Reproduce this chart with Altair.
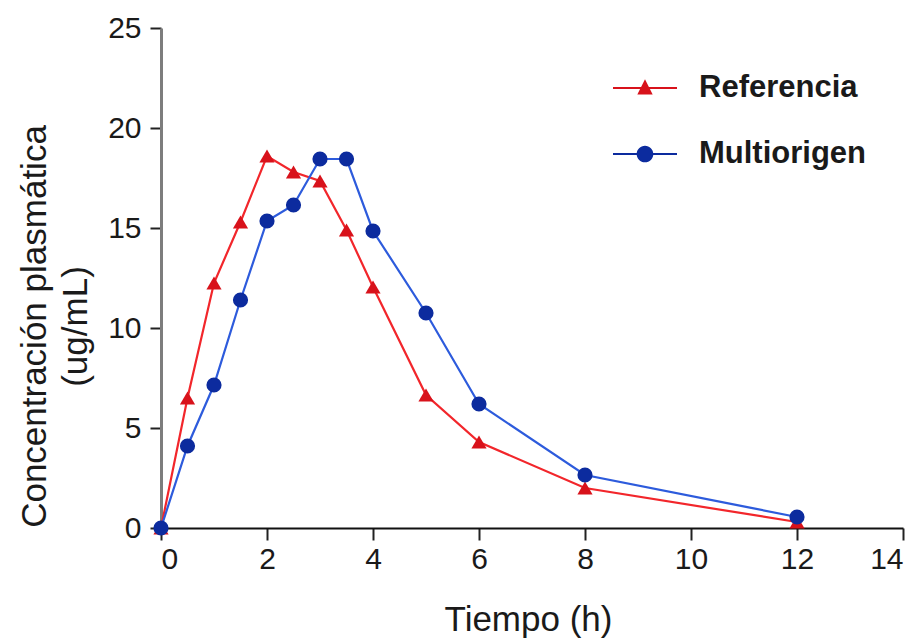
import altair as alt
import pandas as pd

series_names = ["Referencia", "Multiorigen"]
tiempo = [0, 0.5, 1, 1.5, 2, 2.5, 3, 3.5, 4, 5, 6, 8, 12]
referencia = [0.0, 6.5, 12.25, 15.3, 18.6, 17.8, 17.35, 14.9, 12.05, 6.65, 4.3, 2.0, 0.3]
multiorigen = [0.0, 4.1, 7.15, 11.4, 15.35, 16.15, 18.45, 18.45, 14.85, 10.75, 6.2, 2.65, 0.55]
x_ticks = [0, 2, 4, 6, 8, 10, 12, 14]
y_ticks = [0, 5, 10, 15, 20, 25]

rows = []
for t, r, m in zip(tiempo, referencia, multiorigen):
    rows.append({"t": t, "c": r, "serie": "Referencia"})
    rows.append({"t": t, "c": m, "serie": "Multiorigen"})
df = pd.DataFrame(rows)

FONT = "Liberation Sans"

line_colors = ["#f2262b", "#2d5bdc"]
marker_colors = ["#d8121b", "#0c2b9e"]

x_enc = alt.X("t:Q",
              scale=alt.Scale(domain=[0, 14], nice=False),
              axis=alt.Axis(values=x_ticks, title="Tiempo (h)", grid=False,
                            domainColor="#111", domainWidth=2,
                            tickColor="#222", tickWidth=2, tickSize=12,
                            labelFontSize=30, labelColor="#1a1a1a", labelPadding=4,
                            labelFont=FONT, titleFont=FONT, titleFontSize=35,
                            titleFontWeight="normal", titleColor="#1a1a1a",
                            titleX=367, titleY=102, titleBaseline="alphabetic",
                            titleAlign="center"))
y_enc = alt.Y("c:Q",
              scale=alt.Scale(domain=[0, 25], nice=False),
              axis=alt.Axis(values=y_ticks, title=["Concentración plasmática", "(ug/mL)"],
                            grid=False,
                            domainColor="#7d7d7d", domainWidth=3,
                            tickColor="#222", tickWidth=2, tickSize=11,
                            labelFontSize=30, labelColor="#1a1a1a", labelPadding=9,
                            labelFont=FONT, titleFont=FONT, titleFontSize=35,
                            titleFontWeight="normal", titleColor="#1a1a1a",
                            titleAngle=270, titleX=-127, titleY=298,
                            titleAlign="center", titleBaseline="middle",
                            titleLineHeight=41))

line_scale = alt.Scale(domain=series_names, range=line_colors)
fill_scale = alt.Scale(domain=series_names, range=marker_colors)

legend = alt.Legend(title=None, orient="none", legendX=452, legendY=28, padding=0,
                    symbolSize=4096, symbolStrokeWidth=0, rowPadding=19,
                    labelFont=FONT, labelFontSize=31, labelFontWeight="bold",
                    labelColor="#1a1a1a", labelOffset=22, labelLimit=400)

lines = alt.Chart(df).mark_line(strokeWidth=2.2).encode(
    x=x_enc, y=y_enc,
    color=alt.Color("serie:N", scale=line_scale, legend=None),
    detail="serie:N",
)

pts_ref = alt.Chart(df).transform_filter(alt.datum.serie == "Referencia").mark_point(
    filled=True, size=230, opacity=1, strokeWidth=0, shape="triangle-up").encode(
    x=x_enc, y=y_enc,
    fill=alt.Fill("serie:N", scale=fill_scale, legend=None),
)
pts_mul = alt.Chart(df).transform_filter(alt.datum.serie == "Multiorigen").mark_point(
    filled=True, size=230, opacity=1, strokeWidth=0, shape="circle").encode(
    x=x_enc, y=y_enc,
    fill=alt.Fill("serie:N", scale=fill_scale, legend=None),
)

leg_tri = "M-1,-0.035H1V0.035H-1Z M0,-0.27L0.24,0.2L-0.24,0.2Z"
leg_circ = "M-1,-0.035H1V0.035H-1Z M-0.26,0A0.26,0.26 0 1,1 0.26,0A0.26,0.26 0 1,1 -0.26,0Z"

legend_layer = alt.Chart(df).transform_filter("false").mark_point(
    filled=True, strokeWidth=0, opacity=1).encode(
    x=x_enc, y=y_enc,
    fill=alt.Fill("serie:N", scale=fill_scale, legend=legend),
    shape=alt.Shape("serie:N",
                    scale=alt.Scale(domain=series_names, range=[leg_tri, leg_circ]),
                    legend=legend),
)

chart = alt.layer(lines, pts_ref, pts_mul, legend_layer).resolve_scale(
    fill="independent", shape="independent"
).properties(
    width=742, height=500,
    autosize=alt.AutoSizeParams(type="none"),
    padding={"left": 153, "top": 20, "right": 10, "bottom": 115},
    background="white",
).configure_view(stroke=None)

chart.save("out.html", embed_options={"renderer": "svg", "actions": False})
